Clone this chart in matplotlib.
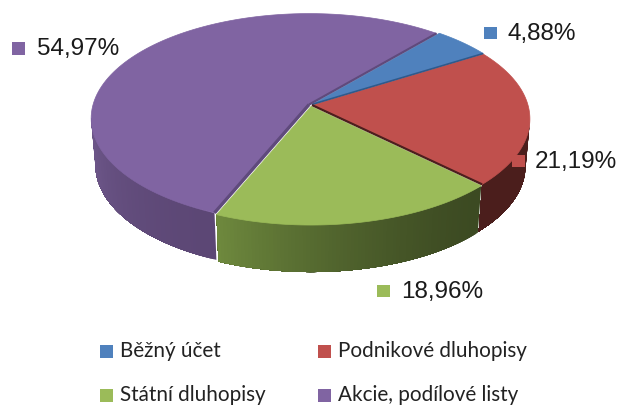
#3D style pie chart of the fund allocation
import numpy as np
import matplotlib.pyplot as plt
from matplotlib.patches import Polygon, Rectangle
from matplotlib.colors import to_rgb

#Chart data
categories = ["Běžný účet", "Podnikové dluhopisy", "Státní dluhopisy", "Akcie, podílové listy"]
shares = [4.88, 21.19, 18.96, 54.97]

#Style of each slice
top_colors = ["#4f81bd", "#c0504d", "#9bbb59", "#8064a2"]
edge_colors = ["#2f5a8c", "#4c1f1d", "#4c5f2a", "#5f4a7c"]
wall_left = ["#4f81bd", "#4b1e1c", "#6f8a3e", "#715a8e"]
wall_right = ["#4f81bd", "#4b1e1c", "#3c4a22", "#5c4775"]

#Pie geometry in pixels
start_angle = 49.5
apex_x, apex_y = 310.5, 105
a, b, k = 216, 103, 0.132
depth = 47
lower_scale = 0.98
explode = 1.5


#Projects a point of the unit circle on the picture, near edge is bigger
def project(t, radius=1.0):
    t = np.radians(t)
    w = 1 + k * np.sin(t)
    return a * radius * np.cos(t) / w, -b * radius * np.sin(t) / w


#Where the slice is moved to when it is pulled out a little
def slice_origin(mid):
    mx, my = project(mid)
    norm = np.hypot(mx, my)
    return apex_x + explode * mx / norm, apex_y + explode * my / norm


fig = plt.figure(figsize=(6.2, 4.07), dpi=100)
ax = fig.add_axes([0, 0, 1, 1])
ax.set_xlim(0, 620)
ax.set_ylim(407, 0)
ax.axis("off")

#Angles of the slices, going clockwise
ends = start_angle - np.cumsum(shares) * 3.6
starts = np.concatenate([[start_angle], ends[:-1]])
limit = np.degrees(np.arcsin(k))

#Side walls first, then the top faces
for i in range(len(shares)):
    ox, oy = slice_origin((starts[i] + ends[i]) / 2)
    wall_from = min(starts[i], -limit)
    wall_to = max(ends[i], -180 + limit)
    if wall_from > wall_to:
        steps = np.linspace(wall_from, wall_to, 80)
        c1, c2 = np.array(to_rgb(wall_left[i])), np.array(to_rgb(wall_right[i]))
        for j in range(len(steps) - 1):
            #each strip runs on to the end of the wall so no seams are left
            part = steps[j:]
            x, y = project(part)
            f = (steps[j] - wall_from) / (wall_to - wall_from)
            color = c2 + (c1 - c2) * f ** 1.6
            pts = list(zip(ox + x, oy + y)) + list(zip(ox + x[::-1] * lower_scale, oy + y[::-1] + depth))
            ax.add_patch(Polygon(pts, closed=True, facecolor=color, edgecolor="none"))

for i in range(len(shares)):
    ox, oy = slice_origin((starts[i] + ends[i]) / 2)
    angles = np.linspace(starts[i], ends[i], 120)
    xs, ys = project(angles)
    pts = [(ox, oy)] + list(zip(ox + xs, oy + ys))
    ax.add_patch(Polygon(pts, closed=True, facecolor=top_colors[i], edgecolor=top_colors[i], linewidth=0.5))

#Dark lines along the cuts: purple has both sides, green has none
for i, side, width in [(0, -1, 1.2), (1, -1, 1.6), (3, 0, 2.4), (3, -1, 1.6)]:
    ox, oy = slice_origin((starts[i] + ends[i]) / 2)
    x, y = project(starts[i] if side == 0 else ends[i])
    ax.plot([ox, ox + x], [oy, oy + y], color=edge_colors[i], linewidth=width, solid_capstyle="butt")

#Data labels
label_x = [507, 535, 401, 37]
label_y = [34, 162, 292, 49.5]
square_x = [484, 512, 377, 12]
for i in range(len(shares)):
    text = f"{shares[i]:.2f}%".replace(".", ",")
    ax.text(label_x[i], label_y[i], text, fontsize=17.5, family="Liberation Sans",
            color="#1a1a1a", va="center", ha="left")
    ax.add_patch(Rectangle((square_x[i], label_y[i] - 7.5), 12.5, 12.5, facecolor=top_colors[i],
                           edgecolor="none", zorder=5))

#Legend
legend_x = [100, 318, 100, 318]
legend_y = [351.5, 351.5, 395.5, 395.5]
for i in range(len(categories)):
    ax.add_patch(Rectangle((legend_x[i], legend_y[i] - 6.5), 13, 13, facecolor=top_colors[i], edgecolor="none"))
    ax.text(legend_x[i] + 20, legend_y[i] - 0.5, categories[i], fontsize=14.9, family="Lato",
            color="#222222", va="center", ha="left")

fig.savefig("out.png", dpi=100, facecolor="white")
